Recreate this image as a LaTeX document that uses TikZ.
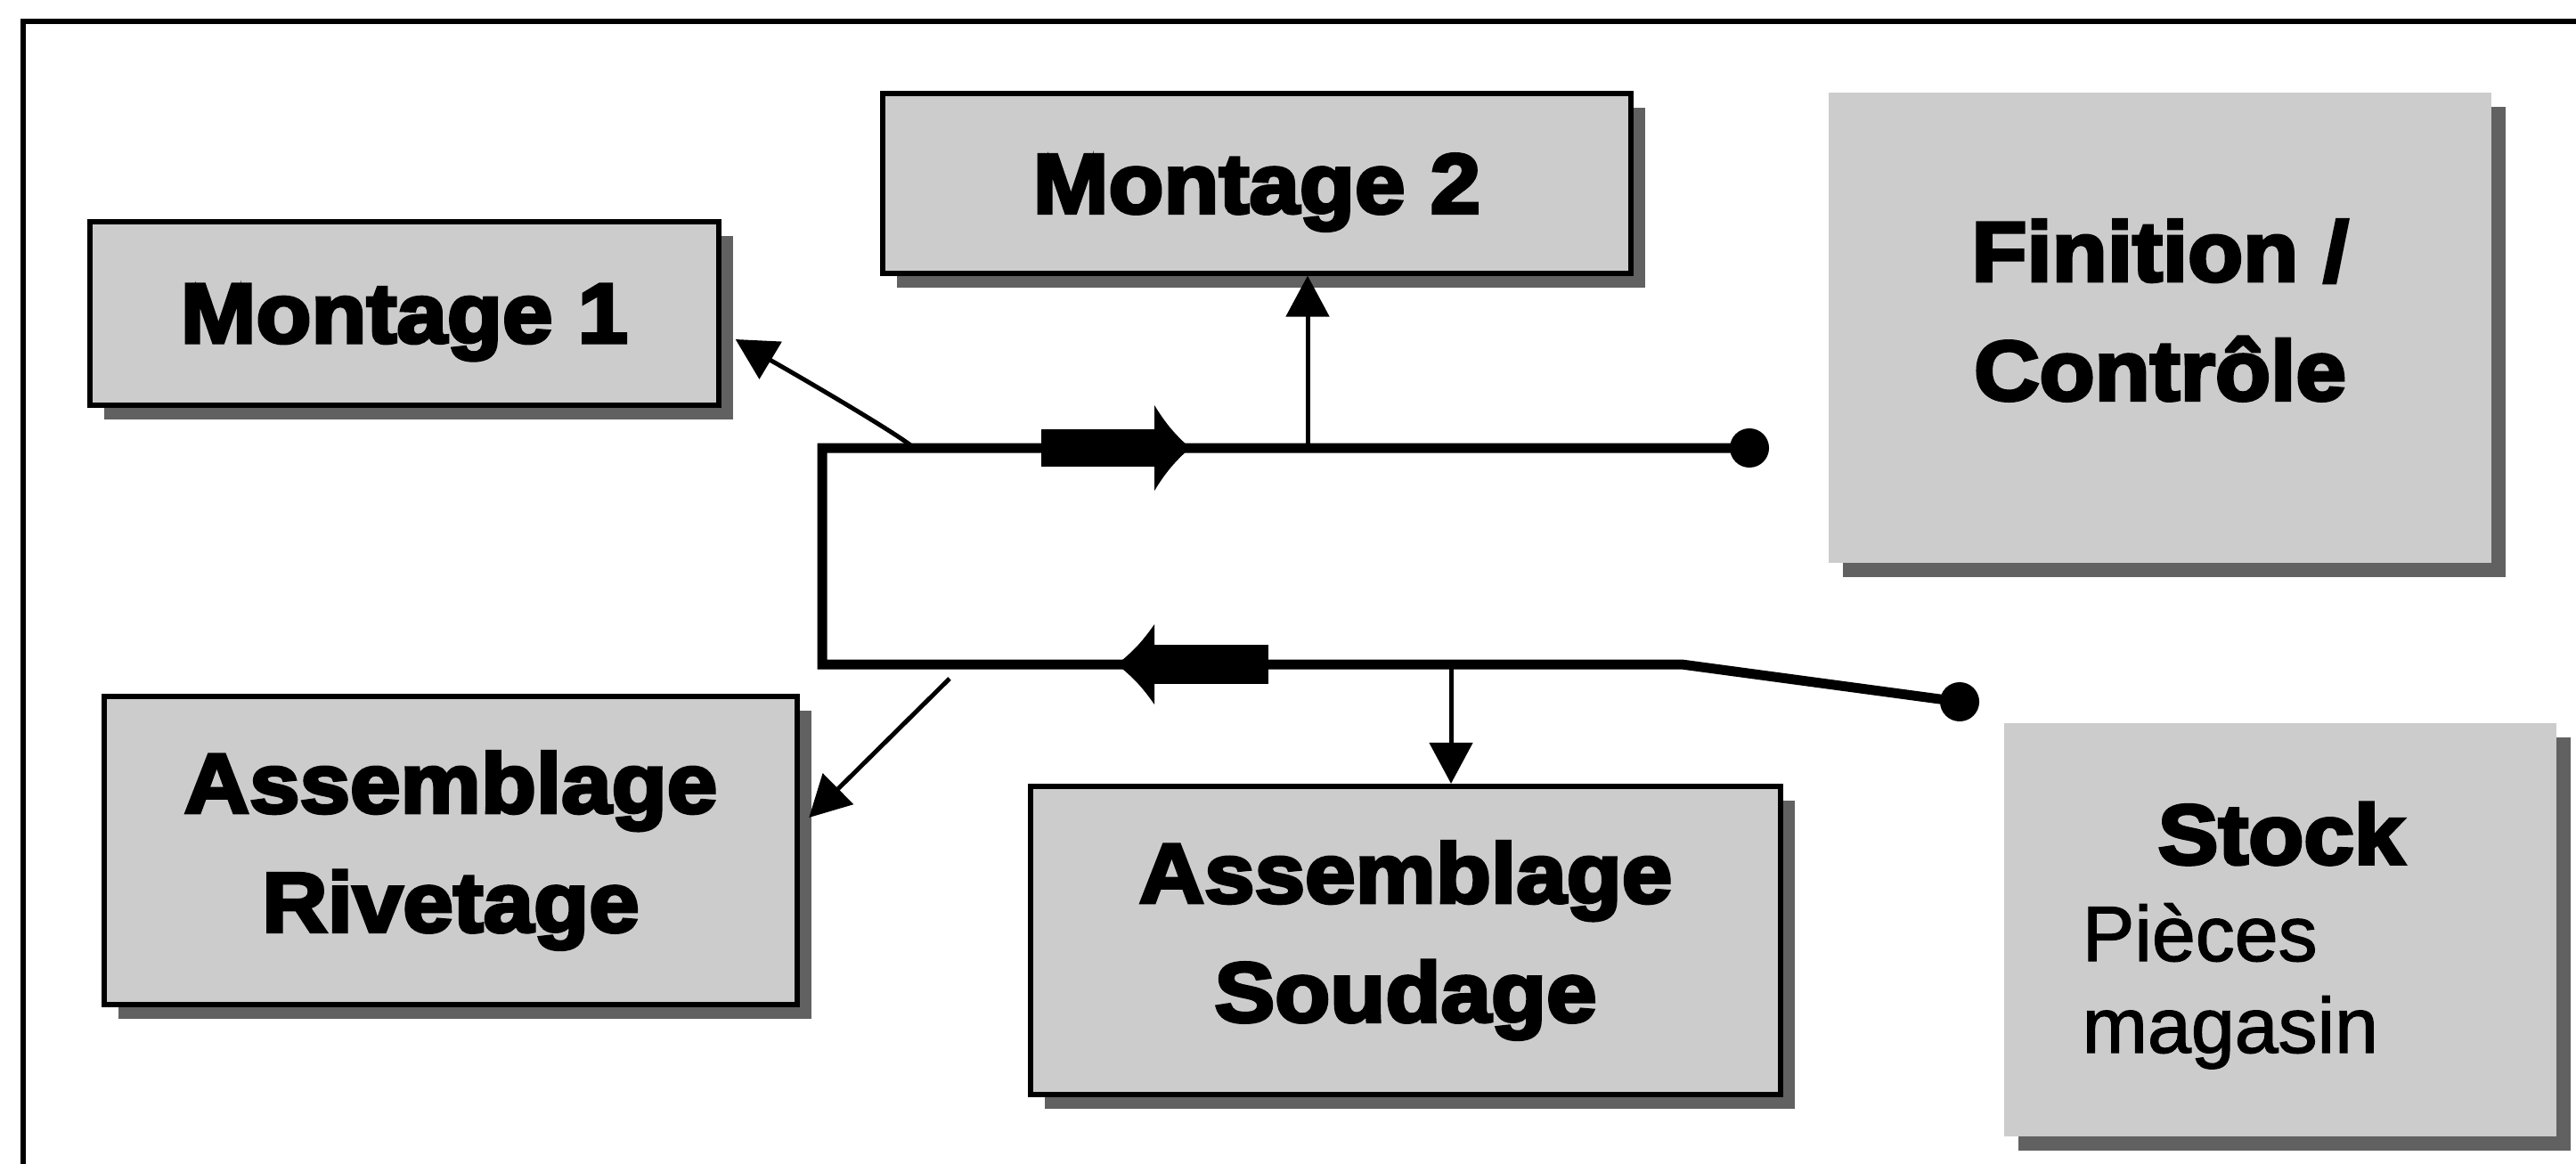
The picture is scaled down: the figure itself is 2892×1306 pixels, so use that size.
\documentclass[tikz,border=0pt]{standalone}
\usepackage{fontspec}
\usepackage{tikz}
\usetikzlibrary{arrows.meta,shadows,calc}
\setmainfont{Liberation Sans}
\newfontfamily\heavyfont{Liberation Sans Bold}[FakeBold=4,FakeStretch=1.07]
\newfontfamily\itemface{Liberation Sans}[FakeBold=1.5]
\newcommand{\boxfont}{\heavyfont\fontsize{27}{38}\selectfont}
\newcommand{\itemfont}{\itemface\fontsize{25}{30}\selectfont}

\tikzset{
  poste/.style={rectangle, draw=black, line width=0.06cm, fill=black!20, align=center, font=\boxfont,
    drop shadow={shadow xshift=0.16cm, shadow yshift=-0.16cm, fill=black!62, opacity=1}},
  zone/.style={poste, draw=none},
  flux/.style={line width=0.11cm},
  renvoi/.style={line width=0.05cm, -{Triangle[length=0.46cm,width=0.48cm]}},
  bout/.style={circle, fill=black, inner sep=0pt, minimum size=0.44cm}
}

\begin{document}
\begin{tikzpicture}[x=0.01cm, y=-0.01cm]
  \useasboundingbox (0,0) rectangle (2892,1306);
  % cadre
  \draw[line width=0.05cm] (26,1340) -- (26,24) -- (2930,24);

  % postes
  \node[poste, minimum width=7.05cm, minimum height=2.06cm, text depth=0pt] (montage1) at (454,352) {Montage 1};
  \node[poste, minimum width=8.4cm, minimum height=2.01cm, text depth=0pt] (montage2) at (1411,206) {Montage 2};
  \node[zone, minimum width=7.44cm, minimum height=5.28cm] (finition) at (2425,368) {Finition /\\Contr\^ole\rule[-0.4cm]{0pt}{0pt}};
  \node[poste, minimum width=7.78cm, minimum height=3.46cm] (rivetage) at (506,955) {Assemblage\\Rivetage};
  \node[poste, minimum width=8.41cm, minimum height=3.46cm] (soudage) at (1578,1056) {Assemblage\\Soudage};
  \node[zone, minimum width=6.2cm, minimum height=4.64cm] (stock) at (2560,1044) {};
  \node[anchor=base, font=\boxfont] (stocktitre) at (2561,970) {Stock};
  \node[anchor=base west, inner sep=0pt, font=\itemfont] (pieces) at (2337,1079) {Pièces};
  \node[anchor=base west, inner sep=0pt, font=\itemfont] (magasin) at (2337,1182) {magasin};

  % ligne de flux
  \node[bout] (bouthaut) at (1964,503) {};
  \node[bout] (boutbas) at (2200,788) {};
  \coordinate (coinhaut) at (923,503);
  \coordinate (coinbas) at (923,746);
  \coordinate (coude) at (1888,746);
  \draw[flux] (bouthaut.center) -- (coinhaut) -- (coinbas) -- (coude) -- (boutbas.center);
  \fill (1169,482) rectangle (1296,524);
  \fill (1296,455) to[bend right=8] (1336,503) to[bend right=8] (1296,551) -- cycle;
  \fill (1296,724) rectangle (1424,768);
  \fill (1296,701) to[bend left=8] (1254,746) to[bend left=8] (1296,791) -- cycle;

  % renvois vers les postes
  \coordinate (depart1) at (1026,503);
  \coordinate (depart2) at (1468,503);
  \coordinate (depart3) at (1066,762);
  \coordinate (depart4) at (1629,746);
  \draw[renvoi] (depart1) to[out=138,in=-31,looseness=0.3] ($(montage1.east)+(16,29)$);
  \draw[renvoi] (depart2) -- (depart2 |- montage2.south);
  \draw[renvoi] (depart3) -- ($(rivetage.east)+(10,-37)$);
  \draw[renvoi] (depart4) -- (depart4 |- soudage.north);
\end{tikzpicture}
\end{document}
